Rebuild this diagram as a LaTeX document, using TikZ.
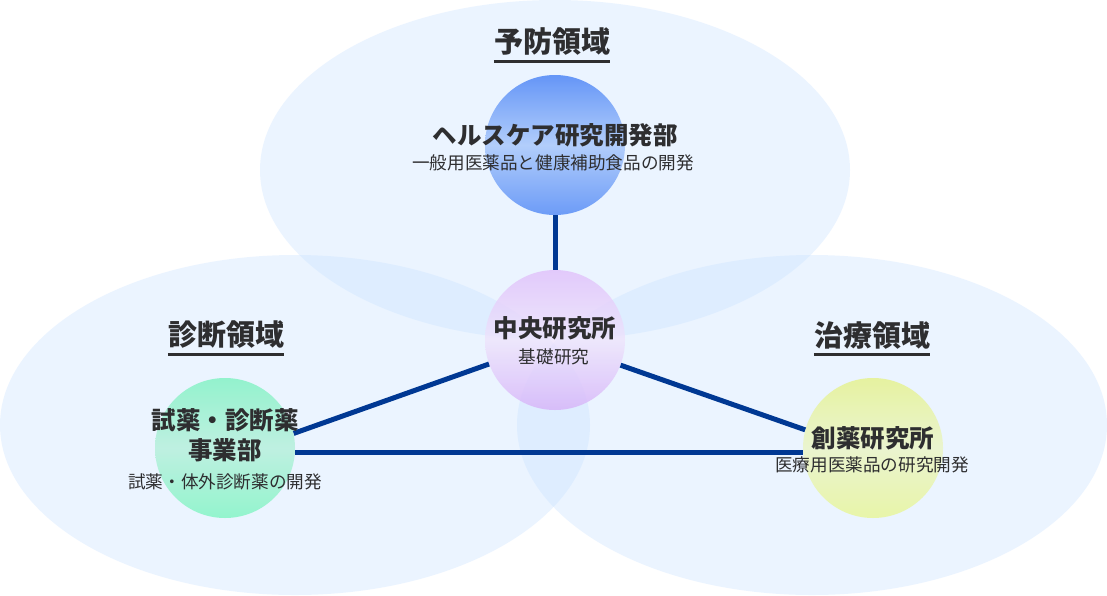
\documentclass[tikz,border=0pt]{standalone}
\usepackage{fontspec}
\newfontfamily\cjk{Noto Sans CJK JP}
\definecolor{regionblue}{RGB}{200,226,255}
\definecolor{linkblue}{RGB}{0,56,147}
\definecolor{textgray}{RGB}{46,46,48}
\definecolor{hcTop}{RGB}{87,140,247}
\definecolor{hcMid}{RGB}{172,202,251}
\definecolor{hcBot}{RGB}{95,146,247}
\definecolor{ccTop}{RGB}{224,190,250}
\definecolor{ccMid}{RGB}{238,228,252}
\definecolor{ccBot}{RGB}{214,176,248}
\definecolor{lcTop}{RGB}{138,242,200}
\definecolor{lcMid}{RGB}{186,240,222}
\definecolor{lcBot}{RGB}{138,244,200}
\definecolor{rcTop}{RGB}{230,242,150}
\definecolor{rcMid}{RGB}{234,244,202}
\definecolor{rcBot}{RGB}{232,246,160}
\begin{document}
\begin{tikzpicture}[x=1pt,y=-1pt,
  region/.style={fill=regionblue, fill opacity=0.36, draw=none},
  unit/.style={circle, minimum size=140pt, inner sep=0pt, draw=none, fill opacity=0.78},
  link/.style={draw=linkblue, line width=5pt},
  heading/.style={inner sep=0pt, text=textgray, font=\cjk\bfseries\fontsize{29}{34}\selectfont},
  uline/.style={draw=textgray, line width=3pt},
  title/.style={inner sep=0pt, text=textgray, font=\cjk\bfseries\fontsize{24.5}{28}\selectfont},
  sub/.style={inner sep=0pt, text=textgray, font=\cjk\fontsize{17.6}{21}\selectfont}
]
\useasboundingbox (0,0) rectangle (1107,595);
\fill[white] (0,0) rectangle (1107,595);
% regions
\fill[region] (555,170) ellipse [x radius=295pt, y radius=170pt];
\fill[region] (295,425) ellipse [x radius=295pt, y radius=170pt];
\fill[region] (812,425) ellipse [x radius=295pt, y radius=170pt];
% unit circles
\node[unit, top color=hcTop, bottom color=hcBot, middle color=hcMid, fill opacity=0.9] (hc) at (555,145) {};
\node[unit, top color=ccTop, bottom color=ccBot, middle color=ccMid] (cc) at (555,340) {};
\node[unit, top color=lcTop, bottom color=lcBot, middle color=lcMid, fill opacity=0.9] (lc) at (225,448) {};
\node[unit, top color=rcTop, bottom color=rcBot, middle color=rcMid, fill opacity=0.9] (rc) at (873,448) {};
% links
\draw[link] (hc.south) -- (cc.north);
\draw[link] (cc.200) -- (lc.12);
\draw[link] (cc.-21) -- (rc.165);
\draw[link] (lc.-4) -- (rc.184);
% headings
\node[heading] (h1) at (552,42) {予防領域};
\draw[uline] ([yshift=-5.5pt]h1.south west) -- ([yshift=-5.5pt]h1.south east);
\node[heading] (h2) at (226,335) {診断領域};
\draw[uline] ([yshift=-5.5pt]h2.south west) -- ([yshift=-5.5pt]h2.south east);
\node[heading] (h3) at (872,335) {治療領域};
\draw[uline] ([yshift=-5.5pt]h3.south west) -- ([yshift=-5.5pt]h3.south east);
% texts
\node[title] (ht) at (555,135) {ヘルスケア研究開発部};
\node[sub] (hs) at (553,163) {一般用医薬品と健康補助食品の開発};
\node[title] (ct) at (555,328) {中央研究所};
\node[sub] (cs) at (554,357) {基礎研究};
\node[title] (lt1) at (225,420) {試薬・診断薬};
\node[title] (lt2) at (225,450) {事業部};
\node[sub] (ls) at (225,482) {試薬・体外診断薬の開発};
\node[title] (rt) at (873,438) {創薬研究所};
\node[sub] (rs) at (872,465) {医療用医薬品の研究開発};
\end{tikzpicture}
\end{document}
